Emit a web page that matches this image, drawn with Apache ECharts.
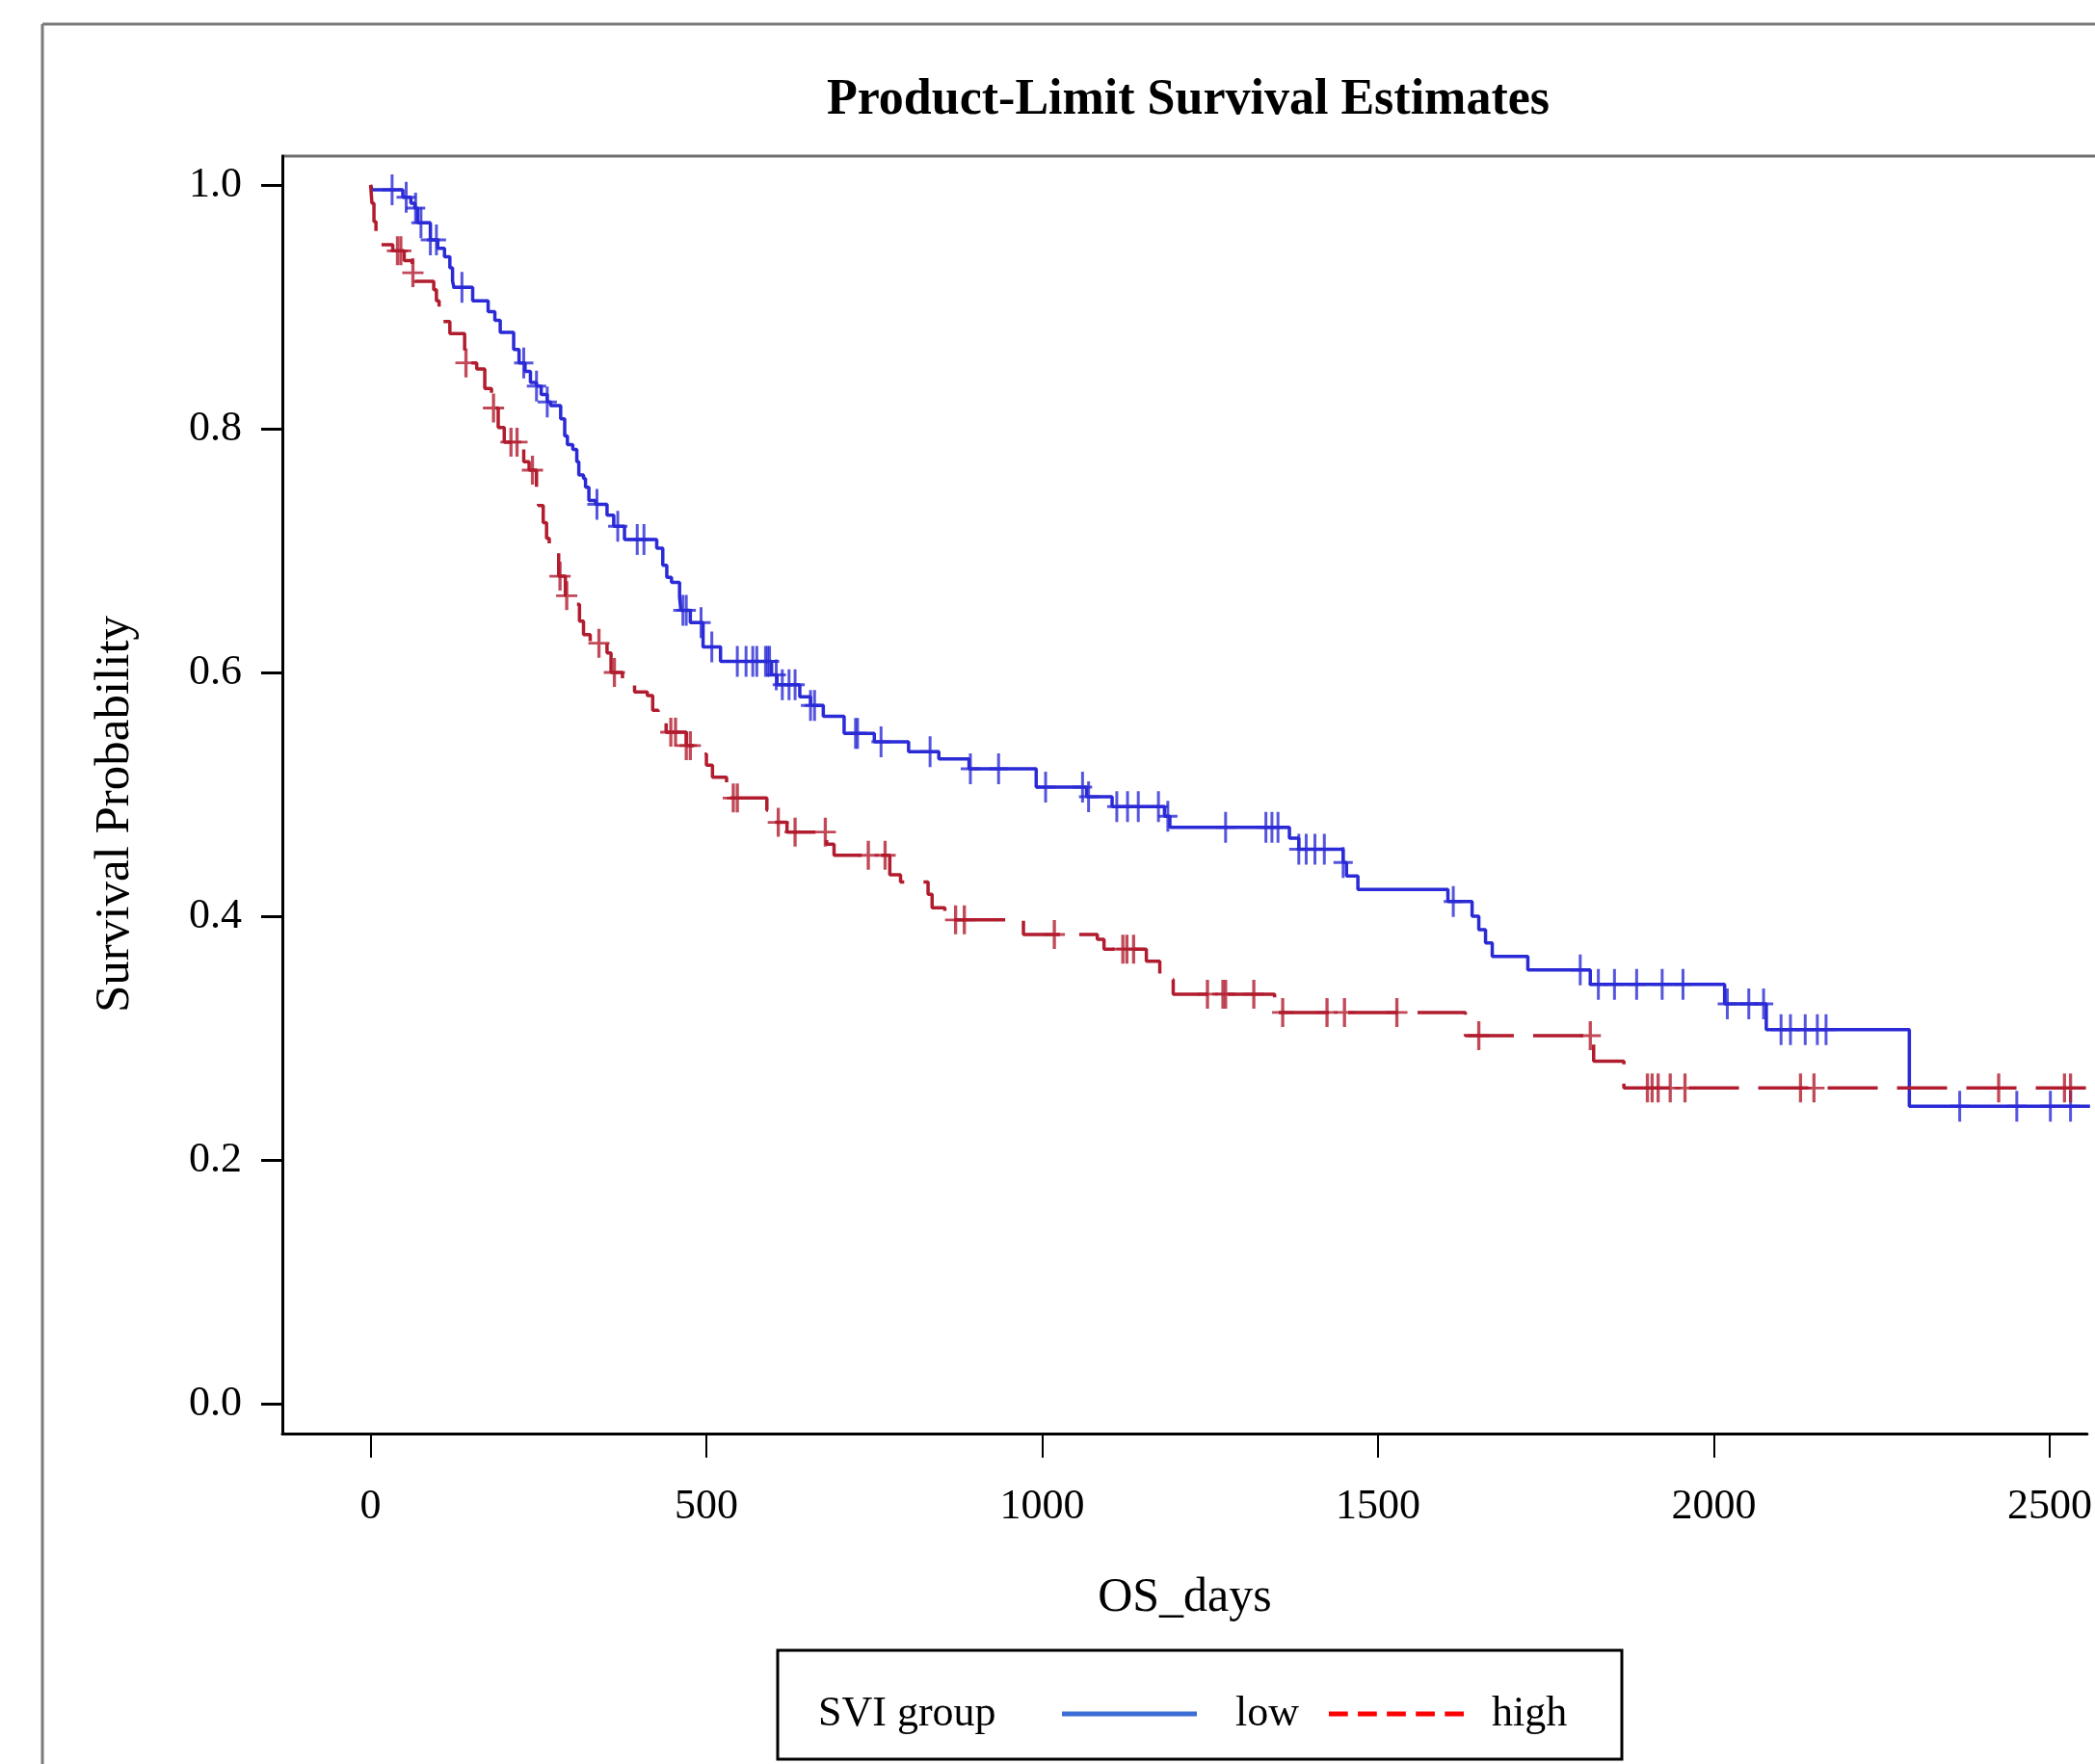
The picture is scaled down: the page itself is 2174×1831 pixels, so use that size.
<!DOCTYPE html>
<html>
<head>
<meta charset="utf-8">
<script src="https://cdn.jsdelivr.net/npm/echarts@6/dist/echarts.min.js"></script>
<style>
html,body{margin:0;padding:0;background:#ffffff;overflow:hidden}
#chart{width:2174px;height:1831px}
</style>
</head>
<body>
<div id="chart"></div>
<script>
// ---------------- data ----------------
const xTicks = [0, 500, 1000, 1500, 2000, 2500];
const yTicks = [0, 0.2, 0.4, 0.6, 0.8, 1.0];
const groupNames = ['low', 'high'];

// SVI group = low : event times (days) and survival after each event
const lowTimes = [0, 2, 48, 60, 66, 70, 89, 100, 110, 118, 122, 124, 152, 175, 185, 193, 213, 221, 230, 238,
  247, 254, 263, 268, 283, 289, 293, 301, 307, 310, 317, 320, 325, 335, 352, 362, 378, 426, 435, 441,
  448, 460, 462, 476, 495, 521, 597, 605, 639, 655, 674, 705, 750, 801, 846, 891, 991, 1066, 1104, 1182,
  1190, 1368, 1382, 1448, 1453, 1470, 1604, 1640, 1650, 1660, 1670, 1723, 1816, 2016, 2078, 2291];
const lowSurv = [1.0, 0.996, 0.990, 0.985, 0.981, 0.969, 0.955, 0.948, 0.941, 0.932, 0.921, 0.916, 0.905, 0.896, 0.889, 0.879, 0.865, 0.854, 0.847, 0.838,
  0.835, 0.828, 0.822, 0.819, 0.808, 0.794, 0.787, 0.783, 0.773, 0.762, 0.759, 0.752, 0.741, 0.738, 0.729, 0.720, 0.709, 0.702, 0.688, 0.678,
  0.674, 0.662, 0.651, 0.641, 0.621, 0.609, 0.598, 0.590, 0.580, 0.573, 0.564, 0.550, 0.543, 0.535, 0.529, 0.521, 0.506, 0.498, 0.490, 0.482,
  0.473, 0.464, 0.455, 0.444, 0.433, 0.422, 0.412, 0.400, 0.389, 0.378, 0.367, 0.356, 0.344, 0.328, 0.307, 0.244];
const lowCensorTimes = [32, 53, 67, 75, 89, 98, 136, 228, 247, 263, 337, 368, 397, 407, 465, 470, 492, 508, 546, 559,
  569, 575, 588, 591, 594, 604, 613, 623, 632, 655, 661, 722, 725, 760, 833, 893, 935, 1005, 1060, 1069,
  1111, 1127, 1143, 1173, 1187, 1273, 1333, 1342, 1351, 1382, 1393, 1406, 1420, 1448, 1612, 1801, 1828, 1852, 1885, 1923,
  1954, 2020, 2052, 2074, 2100, 2114, 2136, 2154, 2167, 2366, 2451, 2501, 2531];
const lowLastTime = 2560;

// SVI group = high
const highTimes = [0, 2, 5, 8, 11, 33, 50, 62, 66, 94, 98, 102, 107, 118, 140, 158, 170, 180, 190, 199,
  228, 236, 247, 250, 257, 262, 266, 280, 290, 305, 311, 317, 327, 352, 358, 375, 393, 412, 420, 428,
  440, 470, 489, 500, 509, 530, 590, 600, 620, 679, 690, 773, 789, 830, 836, 855, 972, 1082, 1092, 1155,
  1175, 1195, 1346, 1630, 1821, 1866];
const highSurv = [1.0, 0.985, 0.970, 0.958, 0.951, 0.946, 0.938, 0.928, 0.921, 0.914, 0.905, 0.897, 0.888, 0.878, 0.854, 0.849, 0.833, 0.817, 0.801, 0.789,
  0.773, 0.766, 0.751, 0.737, 0.723, 0.710, 0.698, 0.679, 0.663, 0.656, 0.642, 0.631, 0.624, 0.616, 0.600, 0.592, 0.584, 0.581, 0.569, 0.559,
  0.551, 0.540, 0.533, 0.524, 0.514, 0.497, 0.487, 0.477, 0.469, 0.459, 0.450, 0.434, 0.428, 0.418, 0.407, 0.397, 0.385, 0.381, 0.373, 0.363,
  0.348, 0.336, 0.321, 0.302, 0.281, 0.259];
const highCensorTimes = [40, 45, 63, 142, 183, 209, 218, 241, 282, 292, 340, 363, 447, 454, 470, 476, 540, 546, 607, 632,
  677, 741, 766, 871, 884, 1018, 1120, 1126, 1136, 1246, 1269, 1273, 1315, 1358, 1424, 1450, 1528, 1650, 1816, 1901,
  1908, 1917, 1935, 1957, 2129, 2149, 2424, 2522, 2531];
const highLastTime = 2560;

// ---------------- helpers ----------------
function survAt(times, surv, t) {
  let s = surv[0];
  for (let i = 0; i < times.length; i++) { if (times[i] <= t) s = surv[i]; else break; }
  return s;
}
function curve(times, surv, lastTime) {
  const d = times.map((t, i) => [t, surv[i]]);
  d.push([lastTime, surv[surv.length - 1]]);
  return d;
}
function censors(times, surv, ct) { return ct.map(t => [t, survAt(times, surv, t)]); }

const SERIF = '"Liberation Serif", "Times New Roman", serif';
const PLUS = 'path://M8.5,0H11.5V32H8.5Z M0,14.5H20V17.5H0Z';
const BLUE = '#2a2ad6';
const RED = '#b11c2e';

const chart = echarts.init(document.getElementById('chart'), null, {renderer: 'canvas'});
chart.setOption({
  animation: false,
  backgroundColor: '#ffffff',
  title: {
    text: 'Product-Limit Survival Estimates',
    left: 1228, top: 100, textAlign: 'center', textVerticalAlign: 'middle',
    textStyle: {fontFamily: SERIF, fontWeight: 'bold', fontSize: 52, color: '#000'}
  },
  grid: {left: 293, top: 162, right: 0, height: 1326, show: false},
  xAxis: {
    type: 'value', min: -131.4, max: 2555.7,
    name: 'OS_days', nameLocation: 'middle', nameGap: 146,
    nameTextStyle: {fontFamily: SERIF, fontSize: 50, color: '#000'},
    axisLine: {show: true, onZero: false, lineStyle: {color: '#000', width: 3}},
    axisTick: {show: true, customValues: xTicks, length: 25, lineStyle: {color: '#000', width: 2}},
    axisLabel: {customValues: xTicks, margin: 54, fontFamily: SERIF, fontSize: 44, color: '#000',
      formatter: v => String(v)},
    splitLine: {show: false}
  },
  yAxis: {
    type: 'value', min: -0.0245, max: 1.0237,
    name: 'Survival Probability', nameLocation: 'middle', nameGap: 148, nameRotate: 90,
    nameTextStyle: {fontFamily: SERIF, fontSize: 51, color: '#000', padding: [0, 40, 0, 0]},
    axisLine: {show: true, onZero: false, lineStyle: {color: '#000', width: 3}},
    axisTick: {show: true, customValues: yTicks, length: 22, lineStyle: {color: '#000', width: 3}},
    axisLabel: {customValues: yTicks, margin: 42, fontFamily: SERIF, fontSize: 44, color: '#000',
      formatter: v => v.toFixed(1)},
    splitLine: {show: false}
  },
  legend: {
    left: 1097, top: 1752, orient: 'horizontal', itemWidth: 140, itemHeight: 20, itemGap: 31,
    textStyle: {fontFamily: SERIF, fontSize: 44, color: '#000', padding: [0, 0, 0, 35]},
    data: [
      {name: groupNames[0], icon: 'path://M0,0H140V5H0Z', itemStyle: {color: '#3c6fd6'}},
      {name: groupNames[1], icon: 'path://M0,0H19V5H0Z M29,0H48V5H29Z M58,0H77V5H58Z M87,0H106V5H87Z M116,0H135V5H116Z',
        itemStyle: {color: '#ff0000'}, textStyle: {padding: [0, 0, 0, 24]}}
    ]
  },
  graphic: [
    {type: 'line', shape: {x1: 44, y1: 25, x2: 2174, y2: 25}, style: {stroke: '#7a7a7a', lineWidth: 3}, silent: true},
    {type: 'line', shape: {x1: 44, y1: 25, x2: 44, y2: 1831}, style: {stroke: '#7a7a7a', lineWidth: 3}, silent: true},
    {type: 'line', shape: {x1: 292, y1: 162, x2: 2174, y2: 162}, style: {stroke: '#6e6e6e', lineWidth: 3}, silent: true},
    {type: 'rect', shape: {x: 807, y: 1713, width: 876, height: 113}, style: {fill: 'none', stroke: '#000', lineWidth: 3}, silent: true},
    {type: 'text', x: 849, y: 1779, style: {text: 'SVI group', font: '44px ' + SERIF, fill: '#000', textVerticalAlign: 'middle'}, silent: true}
  ],
  series: [
    {name: groupNames[0], type: 'line', step: 'end', symbol: 'none', showSymbol: false,
      data: curve(lowTimes, lowSurv, lowLastTime),
      itemStyle: {color: BLUE}, lineStyle: {color: BLUE, width: 3.5}, z: 3},
    {name: groupNames[0] + ' censored', type: 'scatter', symbol: PLUS, symbolSize: [20, 32],
      data: censors(lowTimes, lowSurv, lowCensorTimes), itemStyle: {color: BLUE}, z: 4},
    {name: groupNames[1], type: 'line', step: 'end', symbol: 'none', showSymbol: false,
      data: curve(highTimes, highSurv, highLastTime),
      itemStyle: {color: RED}, lineStyle: {color: RED, width: 3.5, type: [52, 20]}, z: 3},
    {name: groupNames[1] + ' censored', type: 'scatter', symbol: PLUS, symbolSize: [22, 30],
      data: censors(highTimes, highSurv, highCensorTimes), itemStyle: {color: RED}, z: 4}
  ]
});
</script>
</body>
</html>
